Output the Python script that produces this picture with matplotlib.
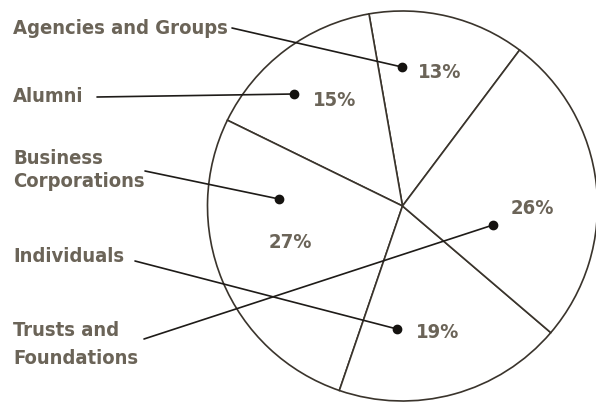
import matplotlib

matplotlib.use("Agg")
import matplotlib.pyplot as plt
import numpy as np

# sources of support, in the order the slices run counter-clockwise
sources = [
    "Agencies and Groups",
    "Alumni",
    "Business\nCorporations",
    "Individuals",
    "Trusts and\nFoundations",
]
shares = [13, 15, 27, 19, 26]

# layout in pixel coordinates (y grows downward)
CENTER = (402.5, 206.0)
RADIUS = 195.0
START = 53.1  # degrees, where the first slice begins

label_xy = [(13, 28), (13, 97), (13, 170), (13, 257), (13, 344)]
label_spacing = [1.2, 1.2, 1.25, 1.2, 1.6]
line_start = [(232, 28), (97, 97), (145, 171), (135, 261), (144, 339)]
dot_xy = [(402, 67), (294, 94), (279, 199), (397, 329), (493, 225)]
pct_xy = [(440, 73), (335, 101), (290, 243), (438, 333), (532, 209)]

TEXT = "#6b6458"
EDGE = "#3a342c"

plt.rcParams["font.family"] = ["DejaVu Sans"]
plt.rcParams["font.stretch"] = "condensed"

fig = plt.figure(figsize=(5.96, 4.03), dpi=100)
ax = fig.add_axes([0, 0, 1, 1])

# y axis is flipped, so a visually counter-clockwise pie runs clockwise in data
wedges, _, pcts = ax.pie(
    shares,
    center=CENTER,
    radius=RADIUS,
    startangle=-START,
    counterclock=False,
    colors=["white"] * len(shares),
    autopct=lambda p: f"{p:.0f}%",
    wedgeprops=dict(edgecolor=EDGE, linewidth=1.2),
    textprops=dict(color=TEXT, fontsize=14.5, fontweight="bold", stretch="condensed"),
)
for t, (x, y) in zip(pcts, pct_xy):
    t.set_position((x, y))
    t.set_ha("center")
    t.set_va("center")

for name, (lx, ly), sp, (sx, sy), (dx, dy) in zip(
    sources, label_xy, label_spacing, line_start, dot_xy
):
    ax.text(
        lx, ly, name, ha="left", va="center", color=TEXT,
        fontsize=14.5, fontweight="bold", stretch="condensed", linespacing=sp,
    )
    ax.plot([sx, dx], [sy, dy], color="#1e1b18", lw=1.2, solid_capstyle="round")
    ax.plot(dx, dy, "o", color="#151310", ms=6)

ax.set_xlim(0, 596)
ax.set_ylim(403, 0)
ax.set_aspect("auto")
ax.axis("off")

fig.savefig("out.png", dpi=100)
